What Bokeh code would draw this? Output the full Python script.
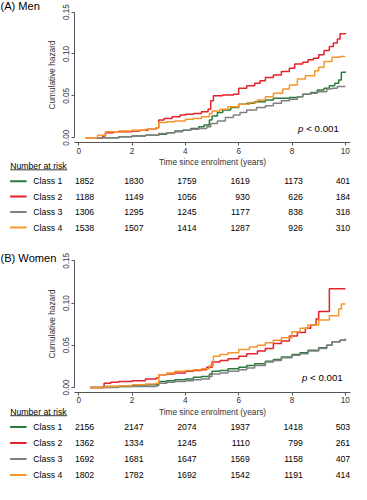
from bokeh.plotting import figure
from bokeh.layouts import column
from bokeh.models import Range1d, LinearAxis, FixedTicker, PrintfTickFormatter, ColumnDataSource
from bokeh.embed import file_html
from bokeh.resources import INLINE
from bokeh.core.properties import value

# ---------------- data ----------------
classes = ["Class 1", "Class 2", "Class 3", "Class 4"]
class_colors = ["#2a7a3b", "#e3232b", "#808080", "#f5962a"]
risk_times = [0, 2, 4, 6, 8, 10]

men_c1_t = [0.6, 1.5, 2.0, 2.5, 2.8, 3.0, 3.3, 3.6, 3.9, 4.2, 4.5, 4.7, 4.9, 5.0, 5.2, 5.4, 5.7, 6.0, 6.3, 6.6, 7.0, 7.3, 7.6, 7.9, 8.2, 8.4, 8.7, 8.95, 9.2, 9.4, 9.6, 9.75, 9.85, 10.0]
men_c1_h = [0, 0.001, 0.002, 0.003, 0.003, 0.004, 0.006, 0.008, 0.009, 0.011, 0.013, 0.015, 0.021, 0.026, 0.030, 0.033, 0.036, 0.040, 0.041, 0.043, 0.045, 0.047, 0.047, 0.048, 0.049, 0.052, 0.054, 0.057, 0.059, 0.062, 0.065, 0.069, 0.078, 0.079]
men_c2_t = [0.25, 0.9, 1.0, 1.3, 1.6, 2.0, 2.3, 2.6, 2.9, 3.0, 3.2, 3.5, 3.8, 4.0, 4.3, 4.6, 4.85, 4.95, 5.05, 5.4, 5.8, 6.0, 6.3, 6.6, 6.8, 7.0, 7.3, 7.6, 7.9, 8.1, 8.4, 8.6, 8.8, 9.0, 9.2, 9.4, 9.55, 9.7, 9.8, 10.0]
men_c2_h = [0, 0.002, 0.006, 0.007, 0.007, 0.008, 0.009, 0.010, 0.012, 0.021, 0.023, 0.025, 0.027, 0.028, 0.029, 0.031, 0.034, 0.044, 0.050, 0.051, 0.052, 0.059, 0.062, 0.065, 0.068, 0.072, 0.075, 0.079, 0.083, 0.088, 0.090, 0.093, 0.095, 0.099, 0.104, 0.109, 0.113, 0.118, 0.124, 0.125]
men_c3_t = [0.6, 1.5, 2.0, 2.5, 3.0, 3.3, 3.6, 3.9, 4.2, 4.5, 4.8, 4.95, 5.2, 5.5, 5.8, 6.05, 6.3, 6.67, 7.0, 7.3, 7.6, 7.9, 8.2, 8.4, 8.7, 8.95, 9.3, 9.5, 9.7, 10.0]
men_c3_h = [0, 0.001, 0.002, 0.003, 0.005, 0.006, 0.007, 0.009, 0.010, 0.011, 0.013, 0.017, 0.020, 0.024, 0.027, 0.030, 0.033, 0.036, 0.038, 0.041, 0.044, 0.046, 0.049, 0.052, 0.053, 0.055, 0.058, 0.059, 0.061, 0.061]
men_c4_t = [0.25, 0.7, 1.0, 1.5, 2.0, 2.5, 2.9, 3.0, 3.3, 3.6, 4.0, 4.3, 4.6, 4.9, 5.0, 5.3, 5.6, 6.0, 6.4, 6.7, 7.0, 7.3, 7.65, 7.9, 8.2, 8.5, 8.85, 9.0, 9.2, 9.5, 9.8, 10.0]
men_c4_h = [0, 0.003, 0.007, 0.008, 0.009, 0.010, 0.012, 0.018, 0.019, 0.020, 0.022, 0.023, 0.025, 0.029, 0.032, 0.034, 0.037, 0.040, 0.042, 0.045, 0.049, 0.053, 0.058, 0.063, 0.070, 0.074, 0.080, 0.084, 0.091, 0.096, 0.097, 0.097]

women_c1_t = [0.43, 1.0, 2.0, 2.5, 2.9, 3.0, 3.3, 3.6, 4.0, 4.3, 4.6, 4.9, 5.0, 5.3, 5.6, 6.0, 6.3, 6.6, 7.0, 7.3, 7.6, 8.0, 8.3, 8.6, 9.0, 9.3, 9.5, 9.8, 10.0]
women_c1_h = [0, 0.001, 0.002, 0.003, 0.003, 0.007, 0.008, 0.009, 0.010, 0.012, 0.013, 0.016, 0.019, 0.020, 0.022, 0.024, 0.026, 0.028, 0.031, 0.033, 0.036, 0.039, 0.041, 0.044, 0.047, 0.050, 0.054, 0.056, 0.057]
women_c2_t = [0.43, 0.95, 1.2, 1.5, 2.0, 2.5, 2.9, 3.0, 3.3, 3.6, 4.0, 4.3, 4.6, 4.8, 5.0, 5.3, 5.6, 6.0, 6.3, 6.7, 7.0, 7.3, 7.6, 7.9, 8.2, 8.5, 8.7, 8.9, 9.0, 9.4, 10.0]
women_c2_h = [0, 0.005, 0.006, 0.007, 0.008, 0.010, 0.011, 0.015, 0.016, 0.017, 0.019, 0.020, 0.021, 0.024, 0.030, 0.032, 0.034, 0.037, 0.040, 0.043, 0.046, 0.052, 0.055, 0.061, 0.065, 0.070, 0.074, 0.081, 0.090, 0.117, 0.117]
women_c3_t = [0.43, 1.5, 2.0, 2.9, 3.0, 3.3, 3.6, 4.0, 4.3, 4.6, 4.9, 5.0, 5.3, 5.6, 6.0, 6.3, 6.6, 7.0, 7.3, 7.6, 8.0, 8.3, 8.6, 9.0, 9.3, 9.5, 9.8, 10.0]
women_c3_h = [0, 0.001, 0.001, 0.002, 0.005, 0.006, 0.007, 0.008, 0.009, 0.010, 0.013, 0.016, 0.017, 0.019, 0.021, 0.023, 0.026, 0.030, 0.032, 0.035, 0.038, 0.040, 0.043, 0.046, 0.050, 0.054, 0.056, 0.058]
women_c4_t = [0.43, 1.0, 1.5, 2.0, 2.5, 2.9, 3.0, 3.3, 3.6, 4.0, 4.3, 4.6, 4.9, 5.05, 5.3, 5.6, 6.0, 6.4, 6.7, 7.0, 7.3, 7.6, 8.0, 8.3, 8.6, 9.0, 9.4, 9.75, 9.85, 10.0]
women_c4_h = [0, 0.001, 0.002, 0.003, 0.004, 0.005, 0.015, 0.017, 0.019, 0.020, 0.021, 0.022, 0.026, 0.037, 0.039, 0.041, 0.045, 0.048, 0.050, 0.053, 0.056, 0.059, 0.066, 0.070, 0.074, 0.080, 0.085, 0.093, 0.099, 0.099]

men_risk_c1 = [1852, 1830, 1759, 1619, 1173, 401]
men_risk_c2 = [1188, 1149, 1056, 930, 626, 184]
men_risk_c3 = [1306, 1295, 1245, 1177, 838, 318]
men_risk_c4 = [1538, 1507, 1414, 1287, 926, 310]
women_risk_c1 = [2156, 2147, 2074, 1937, 1418, 503]
women_risk_c2 = [1362, 1334, 1245, 1110, 799, 261]
women_risk_c3 = [1692, 1681, 1647, 1569, 1158, 407]
women_risk_c4 = [1802, 1782, 1692, 1542, 1191, 414]

y_ticks = [0, 0.05, 0.10, 0.15]
x_ticks = [0, 2, 4, 6, 8, 10]

# ---------------- layout constants (reference pixel space) ----------------
S = 0.966
W = 351
FONT = "Liberation Sans"
X0, PPY = 81.0, 27.6           # x of t=0 and px per year
COL_RIGHT = [97, 148, 203, 258, 313, 362]


def px(v):
    return "%.1fpx" % (v * S)


def make_panel(title, curves, risks, g, fig_h):
    ref_w = W / S
    ref_h = fig_h / S
    T = g["top"]
    k = 0.15 / (g["zero"] - g["tick15"])

    def tx(x):
        return (x - X0) / PPY

    def hy(y):
        return (g["zero"] - y) * k

    p = figure(width=W, height=fig_h,
               x_range=Range1d(tx(0), tx(ref_w)),
               y_range=Range1d(hy(T + ref_h), hy(T)),
               x_axis_type=None, y_axis_type=None,
               output_backend="svg", toolbar_location=None, min_border=0)
    p.outline_line_color = None
    p.background_fill_color = "white"
    p.border_fill_color = "white"

    xaxis = LinearAxis(fixed_location=hy(g["xaxis"]), bounds=(tx(77), tx(362)),
                       ticker=FixedTicker(ticks=x_ticks),
                       axis_label="Time since enrolment (years)")
    yaxis = LinearAxis(fixed_location=tx(77), bounds=(0, 0.15),
                       ticker=FixedTicker(ticks=y_ticks),
                       formatter=PrintfTickFormatter(format="%.2f"),
                       major_label_orientation="vertical",
                       axis_label="Cumulative hazard")
    for ax in (xaxis, yaxis):
        ax.axis_line_color = "#555555"
        ax.axis_line_width = 1
        ax.major_tick_line_color = "#555555"
        ax.major_tick_in = 0
        ax.major_tick_out = 3
        ax.minor_tick_line_color = None
        ax.major_label_text_font = FONT
        ax.major_label_text_font_size = px(8.5)
        ax.major_label_text_color = "#333333"
        ax.axis_label_text_font = FONT
        ax.axis_label_text_font_size = px(8.6)
        ax.axis_label_text_font_style = "normal"
        ax.axis_label_text_color = "#333333"
    xaxis.major_label_standoff = 2
    xaxis.axis_label_standoff = 0
    yaxis.major_label_standoff = 3
    yaxis.axis_label_standoff = 3
    p.add_layout(xaxis, "below")
    p.add_layout(yaxis, "left")

    for (t, h), col in zip(curves, class_colors):
        p.step(t, h, mode="after", line_color=col, line_width=1.5)

    # title
    p.text(x=[tx(0)], y=[hy(g["title"])], text=[title], text_font=value(FONT),
           text_font_size=px(11.5), text_align="left", text_baseline="middle", text_color="black")
    # p-value
    p.text(x=[tx(g["p_x"])], y=[hy(g["p_y"])], text=["p"], text_font=value(FONT),
           text_font_style="italic", text_font_size=px(10), text_align="left", text_baseline="middle")
    p.text(x=[tx(g["p_x"] + 8.5)], y=[hy(g["p_y"])], text=["< 0.001"], text_font=value(FONT),
           text_font_size=px(10), text_align="left", text_baseline="middle")

    # number at risk table
    p.text(x=[tx(10)], y=[hy(g["nar"])], text=["Number at risk"], text_font=value(FONT),
           text_font_size=px(9), text_align="left", text_baseline="middle")
    p.segment(x0=[tx(10)], x1=[tx(69)], y0=[hy(g["nar"] + 4.3)], y1=[hy(g["nar"] + 4.3)],
              line_color="black", line_width=0.8)
    row_y = [hy(g["row0"] + g["row_step"] * i) for i in range(4)]
    p.segment(x0=[tx(10)] * 4, x1=[tx(27)] * 4, y0=row_y, y1=row_y,
              line_color=class_colors, line_width=2)
    p.text(x=[tx(34)] * 4, y=row_y, text=classes, text_font=value(FONT),
           text_font_size=px(9), text_align="left", text_baseline="middle")
    xs, ys, ts = [], [], []
    for i, r in enumerate(risks):
        for j, n in enumerate(r):
            xs.append(tx(COL_RIGHT[j]))
            ys.append(row_y[i])
            ts.append(str(n))
    src = ColumnDataSource(dict(x=xs, y=ys, text=ts))
    p.text(x="x", y="y", text="text", source=src, text_font=value(FONT),
           text_font_size=px(9), text_align="right", text_baseline="middle")
    return p


geo_a = dict(top=0, title=6, zero=142, tick15=12, xaxis=147, p_x=308, p_y=132,
             nar=171, row0=187, row_step=16)
geo_b = dict(top=251, title=267, zero=401, tick15=270, xaxis=406, p_x=312, p_y=391,
             nar=426, row0=442, row_step=16.6)

pa = make_panel("(A) Men",
                [(men_c1_t, men_c1_h), (men_c2_t, men_c2_h), (men_c3_t, men_c3_h), (men_c4_t, men_c4_h)],
                [men_risk_c1, men_risk_c2, men_risk_c3, men_risk_c4], geo_a, 242)
pb = make_panel("(B) Women",
                [(women_c1_t, women_c1_h), (women_c2_t, women_c2_h), (women_c3_t, women_c3_h), (women_c4_t, women_c4_h)],
                [women_risk_c1, women_risk_c2, women_risk_c3, women_risk_c4], geo_b, 242)

layout = column(pa, pb, spacing=0)
open("out.html", "w").write(file_html(layout, INLINE))
